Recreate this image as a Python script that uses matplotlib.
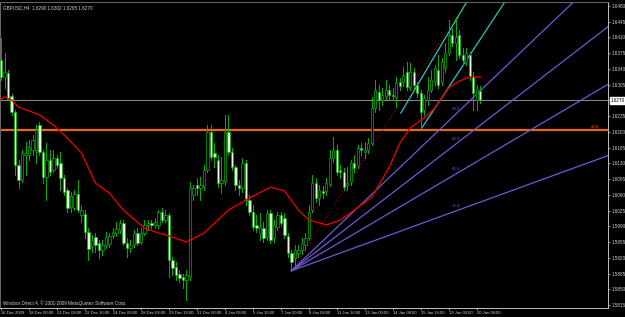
import matplotlib
matplotlib.use('Agg')
import matplotlib.pyplot as plt
import matplotlib.transforms as mtransforms
from matplotlib.patches import Rectangle

plt.rcParams['font.family'] = ['Liberation Sans', 'DejaVu Sans']

# GBPUSD H4 candles, 16 Dec 2009 16:00 .. 20 Jan 2010
opens = [1.6360, 1.6322, 1.6331, 1.6280, 1.6244, 1.6126, 1.6093, 1.6149, 1.6149, 1.6160,
         1.6160, 1.6215, 1.6155, 1.6100, 1.6138, 1.6115, 1.6142, 1.6131, 1.6097, 1.6071,
         1.6033, 1.6031, 1.6062, 1.6015, 1.6018, 1.5977, 1.5946, 1.5966, 1.5953, 1.5937,
         1.5948, 1.5951, 1.5968, 1.5975, 1.5982, 1.5998, 1.5953, 1.5942, 1.5951, 1.5975,
         1.5955, 1.5975, 1.5993, 1.5998, 1.5993, 1.5993, 1.6022, 1.6004, 1.6015, 1.5915,
         1.5900, 1.5884, 1.5877, 1.5871, 1.5880, 1.6060, 1.6082, 1.6075, 1.6080, 1.6115,
         1.6200, 1.6153, 1.6138, 1.6086, 1.6089, 1.6200, 1.6155, 1.6122, 1.6082, 1.6075,
         1.6131, 1.6049, 1.6022, 1.5993, 1.5975, 1.5986, 1.5966, 1.6020, 1.5964, 1.5989,
         1.6015, 1.6009, 1.5968, 1.5931, 1.5920, 1.5931, 1.5937, 1.5948, 1.5964, 1.6026,
         1.6086, 1.6053, 1.6069, 1.6069, 1.6084, 1.6142, 1.6160, 1.6115, 1.6111, 1.6082,
         1.6089, 1.6131, 1.6124, 1.6164, 1.6155, 1.6160, 1.6175, 1.6253, 1.6289, 1.6271,
         1.6280, 1.6293, 1.6282, 1.6278, 1.6311, 1.6311, 1.6333, 1.6300, 1.6333, 1.6304,
         1.6287, 1.6249, 1.6271, 1.6293, 1.6311, 1.6338, 1.6311, 1.6342, 1.6375, 1.6416,
         1.6398, 1.6416, 1.6371, 1.6355, 1.6371, 1.6324, 1.6271, 1.6290]
highs = [1.6409, 1.6375, 1.6338, 1.6284, 1.6249, 1.6138, 1.6160, 1.6178, 1.6182, 1.6193,
         1.6215, 1.6222, 1.6160, 1.6175, 1.6160, 1.6160, 1.6149, 1.6155, 1.6104, 1.6075,
         1.6066, 1.6071, 1.6093, 1.6037, 1.6026, 1.5986, 1.5971, 1.5975, 1.5960, 1.5960,
         1.5977, 1.5975, 1.5986, 1.6000, 1.6004, 1.6004, 1.5964, 1.5960, 1.5982, 1.5986,
         1.5986, 1.6004, 1.6004, 1.6004, 1.6009, 1.6026, 1.6031, 1.6026, 1.6020, 1.5922,
         1.5911, 1.5893, 1.5884, 1.5893, 1.6089, 1.6082, 1.6097, 1.6100, 1.6126, 1.6215,
         1.6215, 1.6175, 1.6149, 1.6144, 1.6238, 1.6238, 1.6164, 1.6126, 1.6093, 1.6142,
         1.6138, 1.6060, 1.6037, 1.6015, 1.6020, 1.6000, 1.6026, 1.6026, 1.6004, 1.6022,
         1.6022, 1.6020, 1.5975, 1.5937, 1.5948, 1.5948, 1.5964, 1.5975, 1.6037, 1.6104,
         1.6097, 1.6082, 1.6080, 1.6097, 1.6160, 1.6189, 1.6171, 1.6126, 1.6120, 1.6122,
         1.6138, 1.6149, 1.6171, 1.6175, 1.6178, 1.6186, 1.6278, 1.6315, 1.6304, 1.6298,
         1.6315, 1.6304, 1.6298, 1.6322, 1.6320, 1.6344, 1.6355, 1.6353, 1.6342, 1.6311,
         1.6293, 1.6282, 1.6322, 1.6338, 1.6349, 1.6371, 1.6364, 1.6398, 1.6449, 1.6431,
         1.6455, 1.6427, 1.6387, 1.6387, 1.6378, 1.6333, 1.6304, 1.6302]
lows = [1.6315, 1.6298, 1.6271, 1.6238, 1.6104, 1.6075, 1.6089, 1.6104, 1.6138, 1.6149,
        1.6131, 1.6149, 1.6086, 1.6049, 1.6104, 1.6111, 1.6120, 1.6071, 1.6060, 1.6022,
        1.6022, 1.6026, 1.6022, 1.6000, 1.5964, 1.5915, 1.5933, 1.5933, 1.5920, 1.5926,
        1.5942, 1.5944, 1.5964, 1.5968, 1.5975, 1.5948, 1.5922, 1.5933, 1.5944, 1.5948,
        1.5951, 1.5971, 1.5982, 1.5986, 1.5986, 1.5986, 1.6000, 1.6000, 1.5877, 1.5882,
        1.5871, 1.5866, 1.5853, 1.5826, 1.5871, 1.6049, 1.6060, 1.6049, 1.6071, 1.6111,
        1.6138, 1.6122, 1.6077, 1.6064, 1.6082, 1.6149, 1.6115, 1.6071, 1.6060, 1.6066,
        1.6037, 1.6015, 1.5982, 1.5977, 1.5960, 1.5955, 1.5960, 1.5953, 1.5955, 1.5982,
        1.5991, 1.5964, 1.5922, 1.5891, 1.5902, 1.5922, 1.5929, 1.5937, 1.5960, 1.6022,
        1.6044, 1.6037, 1.6053, 1.6060, 1.6080, 1.6133, 1.6104, 1.6097, 1.6071, 1.6071,
        1.6082, 1.6111, 1.6120, 1.6149, 1.6142, 1.6153, 1.6171, 1.6244, 1.6249, 1.6260,
        1.6271, 1.6271, 1.6271, 1.6255, 1.6293, 1.6302, 1.6293, 1.6293, 1.6298, 1.6278,
        1.6209, 1.6238, 1.6260, 1.6289, 1.6304, 1.6298, 1.6304, 1.6333, 1.6371, 1.6391,
        1.6360, 1.6364, 1.6349, 1.6349, 1.6315, 1.6249, 1.6249, 1.6265]
closes = [1.6322, 1.6333, 1.6273, 1.6244, 1.6126, 1.6093, 1.6153, 1.6153, 1.6166, 1.6182,
          1.6204, 1.6155, 1.6100, 1.6138, 1.6111, 1.6142, 1.6126, 1.6097, 1.6066, 1.6031,
          1.6057, 1.6062, 1.6026, 1.6026, 1.5977, 1.5940, 1.5960, 1.5948, 1.5937, 1.5948,
          1.5966, 1.5968, 1.5977, 1.5984, 1.5998, 1.5953, 1.5942, 1.5948, 1.5975, 1.5953,
          1.5975, 1.5993, 1.5998, 1.5993, 1.6000, 1.6022, 1.6004, 1.6015, 1.5915, 1.5897,
          1.5882, 1.5875, 1.5871, 1.5882, 1.6075, 1.6075, 1.6075, 1.6082, 1.6115, 1.6200,
          1.6144, 1.6144, 1.6086, 1.6093, 1.6200, 1.6155, 1.6122, 1.6082, 1.6075, 1.6131,
          1.6049, 1.6022, 1.5989, 1.5986, 1.5989, 1.5964, 1.6020, 1.5960, 1.5993, 1.6015,
          1.5998, 1.5971, 1.5931, 1.5911, 1.5937, 1.5937, 1.5953, 1.5964, 1.6022, 1.6086,
          1.6053, 1.6071, 1.6064, 1.6086, 1.6142, 1.6160, 1.6111, 1.6111, 1.6077, 1.6086,
          1.6131, 1.6120, 1.6164, 1.6160, 1.6160, 1.6175, 1.6253, 1.6293, 1.6271, 1.6282,
          1.6293, 1.6282, 1.6280, 1.6309, 1.6302, 1.6327, 1.6300, 1.6333, 1.6304, 1.6287,
          1.6244, 1.6275, 1.6293, 1.6315, 1.6342, 1.6304, 1.6355, 1.6375, 1.6416, 1.6398,
          1.6411, 1.6371, 1.6360, 1.6375, 1.6324, 1.6287, 1.6295, 1.6270]

# moving average (red) read at a few bars
ma_bars = [0, 1, 3, 5, 9, 11, 15, 19, 23, 27, 31, 35, 41, 45, 47, 53, 58, 65, 71, 77,
           81, 85, 88, 93, 97, 101, 106, 111, 114, 117, 121, 124, 128, 131, 134, 137]
ma_vals = [1.6273, 1.6278, 1.6271, 1.6255, 1.6244, 1.6238, 1.6215, 1.6186, 1.6153, 1.6086,
           1.6064, 1.6026, 1.5986, 1.5975, 1.5971, 1.5955, 1.5975, 1.6026, 1.6053, 1.6077,
           1.6069, 1.6026, 1.6004, 1.5993, 1.6004, 1.6026, 1.6055, 1.6122, 1.6175, 1.6209,
           1.6231, 1.6253, 1.6298, 1.6313, 1.6322, 1.6322]

time_labels = ['16 Dec 2009', '18 Dec 00:00', '21 Dec 08:00', '22 Dec 16:00', '24 Dec 00:00',
               '28 Dec 08:00', '29 Dec 16:00', '31 Dec 00:00', '4 Jan 08:00', '5 Jan 16:00',
               '7 Jan 00:00', '8 Jan 08:00', '11 Jan 16:00', '13 Jan 00:00', '14 Jan 08:00',
               '15 Jan 16:00', '19 Jan 00:00', '20 Jan 08:00']
price_ticks = [1.6480, 1.6445, 1.6410, 1.6375, 1.6340, 1.6305, 1.6270, 1.6235, 1.6200, 1.6165,
               1.6130, 1.6095, 1.6060, 1.6025, 1.5990, 1.5955, 1.5920, 1.5885, 1.5850, 1.5815]

# fibonacci fan anchors (bar, price) and levels
fan_p1 = (83, 1.5891)
fan_p2 = (130, 1.6455)
fan_levels = [38.2, 50.0, 61.8, 76.4]
cyan_lines = [[(114.3, 1.6242), (133.1, 1.6489)],
              [(120.3, 1.6209), (144.0, 1.6489)]]
hline_price = 1.6204
bid = 1.6270

BG = '#000000'
GREEN = '#00b400'
FAN = '#6a5ad8'
TXT = '#d0d0d0'

fig = plt.figure(figsize=(6.25, 3.17), dpi=100, facecolor=BG)
ax = fig.add_axes([0.0, 9 / 317, 608 / 625, 306 / 317], facecolor=BG)

# candles
for i in range(len(opens)):
    o, h, l, c = opens[i], highs[i], lows[i], closes[i]
    ax.plot([i, i], [l, h], color=GREEN, lw=0.7, zorder=3)
    bottom = min(o, c)
    height = max(abs(c - o), 0.00008)
    face = BG if c >= o else '#e4ffdc'
    ax.add_patch(Rectangle((i - 0.32, bottom), 0.64, height, facecolor=face,
                           edgecolor=GREEN, lw=0.5, zorder=4))

ax.plot(ma_bars, ma_vals, color='#e00000', lw=1.0, zorder=5)

# horizontal lines
ax.axhline(hline_price, color='#e86a10', lw=1.6, zorder=2)
ax.axhline(bid, color='#8c8c8c', lw=0.7, zorder=1)

x_right = 173.5
# fan
x1, y1 = fan_p1
x2, y2 = fan_p2
ax.plot([x1, x2], [y1, y2], color='#a00000', lw=0.8, ls=(0, (1, 2)), zorder=2)
for lev in fan_levels:
    target = y2 - lev / 100 * (y2 - y1)
    slope = (target - y1) / (x2 - x1)
    ax.plot([x1, x_right], [y1, y1 + slope * (x_right - x1)], color=FAN, lw=0.9, zorder=2)
    ax.text(x2, target + 0.0006, '%.1f' % lev, color=FAN, fontsize=3.2,
            ha='center', va='bottom', zorder=6)

for (ax_, ay), (bx, by) in cyan_lines:
    slope = (by - ay) / (bx - ax_)
    ax.plot([ax_, x_right], [ay, ay + slope * (x_right - ax_)], color='#20c8c8', lw=0.9, zorder=2)

ax.text(171, hline_price + 0.0003, '23.6', color='#e86a10', fontsize=3.2,
        ha='right', va='bottom')

ax.set_xlim(-0.29, x_right)
ax.set_ylim(1.58083, 1.64889)

ax.yaxis.tick_right()
ax.set_yticks(price_ticks)
ax.set_yticklabels(['%.4f' % p for p in price_ticks])
ax.set_xticks(range(0, 8 * len(time_labels), 8))
ax.set_xticklabels(time_labels, ha='left')
ax.tick_params(colors=TXT, length=1.5, width=0.5, pad=0.8)
ax.tick_params(axis='y', labelsize=3.3)
ax.tick_params(axis='x', labelsize=3.0)
for s in ['left', 'top']:
    ax.spines[s].set_color('#6a6a6a')
for s in ['right', 'bottom']:
    ax.spines[s].set_color('#c0c0c0')
for s in ax.spines.values():
    s.set_linewidth(0.7)

trans = mtransforms.blended_transform_factory(ax.transAxes, ax.transData)
ax.text(1.004, bid, '1.6270', transform=trans, fontsize=3.3, color='black', va='center',
        ha='left', bbox=dict(facecolor='white', edgecolor='white', pad=0.6), zorder=10,
        clip_on=False)

ax.text(0.005, 0.99, 'GBPUSD,H4  1.6290 1.6302 1.6265 1.6270', transform=ax.transAxes,
        color=TXT, fontsize=3.3, va='top', ha='left')
ax.text(0.005, 0.008, 'Windsor Direct 4, \u00a9 2001-2009 MetaQuotes Software Corp.',
        transform=ax.transAxes, color=TXT, fontsize=3.3, va='bottom', ha='left')

fig.savefig('out.png', dpi=100, facecolor=BG)
